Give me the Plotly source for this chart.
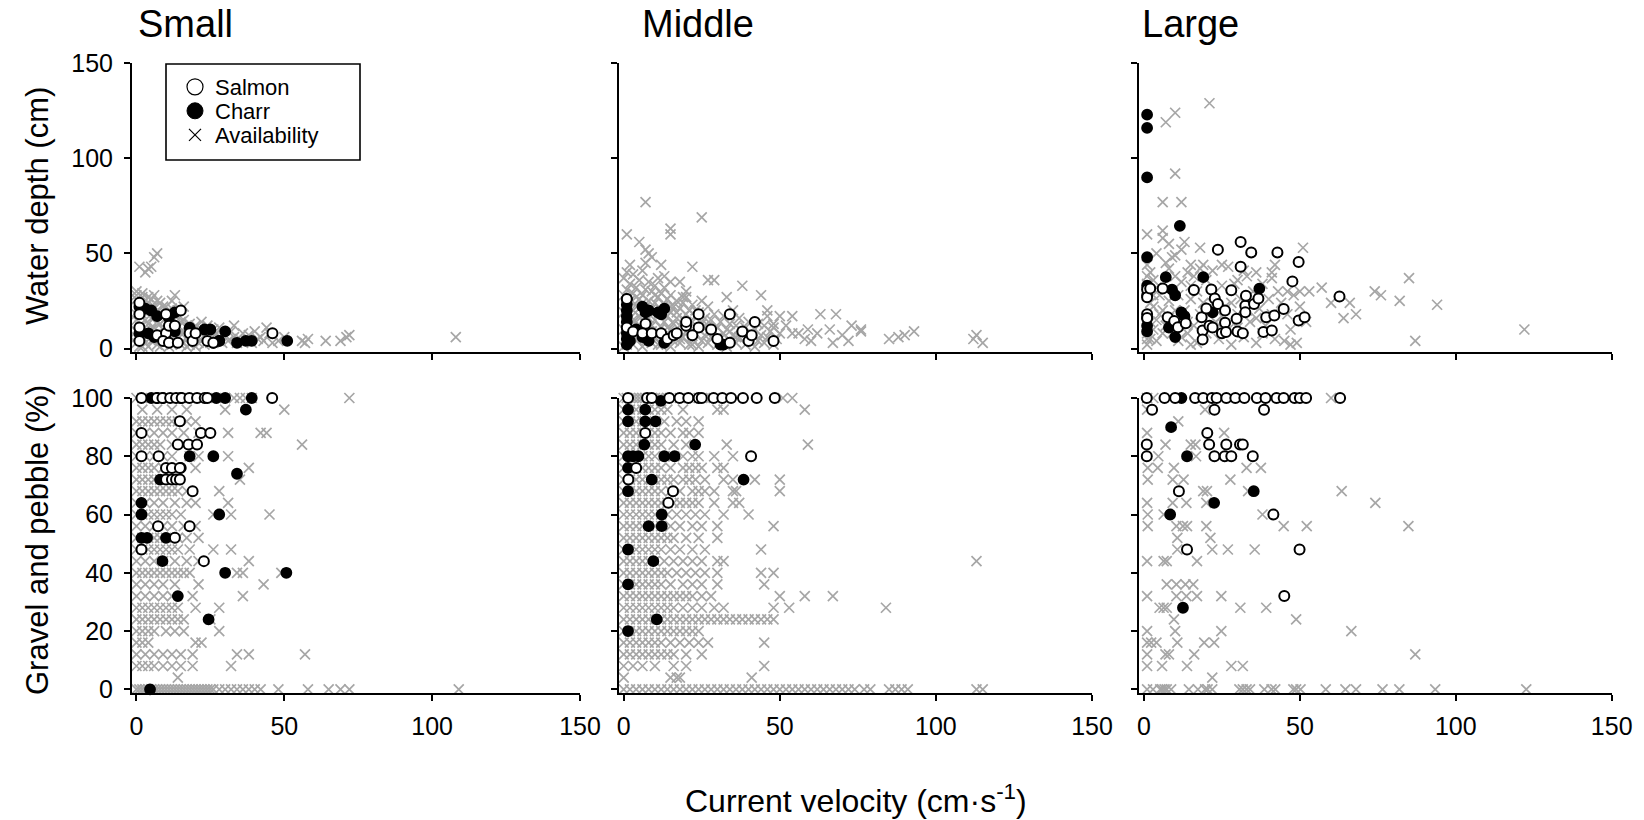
import plotly.graph_objects as go

FONT = "Liberation Sans, Arial, sans-serif"
GRAY = "#a6a6a6"

panel_titles = ["Small", "Middle", "Large"]
x_ticks = [0, 50, 100, 150]
depth_ticks = [0, 50, 100, 150]
gravel_ticks = [0, 20, 40, 60, 80, 100]

# ---------------- Water depth (cm) vs current velocity (cm/s) ----------------
small_depth_avail = [
    (1,43),(3,40),(4,42),(5,43),(7,50),(6,48),(13,28),(12,25),(16,22),(14,20),(22,14),(24,12),(26,10),
    (28,11),(33,12),(36,8),(40,9),(42,6),(44,11),(45,8),(48,4),(50,6),(56,4),(57,3),(58,5),(64,4),
    (69,4),(71,6),(72,7),(108,6),
    (0,30),(0,28),(0,26),(1,24),(1,22),(1,20),(0,18),(0,15),(1,12),(0,9),(0,6),(0,3),(1,1),
    (2,29),(2,27),(3,25),(2,23),(3,21),(2,18),(3,15),(2,12),(3,9),(2,6),(3,3),(2,1),
    (4,27),(5,26),(4,24),(5,22),(4,19),(5,16),(4,13),(5,10),(4,7),(5,4),(4,1),
    (6,28),(7,25),(6,22),(7,20),(6,17),(7,14),(6,11),(7,8),(6,5),(7,2),
    (8,24),(9,22),(8,19),(9,17),(8,13),(9,10),(8,7),(9,4),(8,1),
    (10,22),(11,20),(10,16),(11,13),(10,10),(11,7),(10,4),(11,1),
    (12,21),(13,18),(12,15),(13,11),(12,8),(13,5),(12,2),
    (14,17),(15,14),(14,11),(15,8),(14,5),(15,2),
    (16,15),(17,12),(16,9),(17,6),(16,3),(17,1),
    (18,13),(19,10),(18,7),(19,4),(18,2),
    (20,12),(21,9),(20,6),(21,3),(20,1),
    (22,10),(23,7),(22,4),(23,2),
    (25,9),(26,6),(25,3),(27,8),(28,5),(29,3),(30,7),(31,4),(32,9),(33,6),(34,3),(35,5),(37,4),
    (38,7),(39,3),(41,5),(43,4),(46,3),
]
small_depth_charr = [
    (1,22),(3,21),(5,20),(7,17),(11,16),(13,19),(13,9),(18,11),(23,10),(25,10),(28,4),(30,9),
    (34,3),(37,4),(39,4),(51,4),(1,8),(4,8),(26,3),(28,4),(6,6),
]
small_depth_salmon = [
    (1,24),(1,18),(1,11),(1,4),(7,7),(10,8),(10,18),(11,12),(13,12),(15,20),(18,8),(19,4),
    (24,4),(26,3),(20,8),(9,4),(11,3),(14,3),(46,8),
]

middle_depth_avail = [
    (7,77),(25,69),(15,63),(15,60),(1,60),(5,56),(7,52),(9,48),(8,50),(2,44),(12,44),(22,43),
    (27,36),(29,36),(38,33),(18,35),(15,35),(13,38),(20,30),(33,27),(44,28),(46,20),(50,17),
    (54,17),(63,18),(68,18),(73,12),(76,10),(76,9),(85,5),(88,6),(90,7),(93,9),(113,7),(115,3),
    (112,5),(59,10),(62,8),(66,10),(70,7),(72,4),(67,3),(58,5),(56,8),(60,4),(52,12),(54,8),(48,13),
    (0,1),(1,4),(2,7),(0,10),(1,13),(2,16),(0,19),(1,22),(2,25),(0,28),(1,31),(2,34),(0,37),(1,40),
    (3,2),(4,5),(5,8),(3,11),(4,14),(5,17),(3,20),(4,23),(5,26),(3,29),(4,32),(5,36),(3,39),
    (6,1),(7,4),(8,7),(6,10),(7,13),(8,16),(6,19),(7,22),(8,25),(6,28),(7,31),(8,35),(6,41),(7,45),
    (9,3),(10,6),(11,9),(9,12),(10,15),(11,18),(9,21),(10,24),(11,27),(9,30),(10,33),(11,37),
    (12,2),(13,5),(14,8),(12,11),(13,14),(14,17),(12,20),(13,23),(14,26),(12,29),(13,32),
    (15,1),(16,4),(17,7),(15,10),(16,13),(17,16),(15,19),(16,22),(17,25),(15,28),
    (18,3),(19,6),(20,9),(18,12),(19,15),(20,18),(18,21),(19,24),(20,27),
    (21,2),(22,5),(23,8),(21,11),(22,14),(23,17),(21,20),(22,23),
    (24,1),(25,4),(26,7),(24,10),(25,13),(26,16),(24,19),(25,25),
    (27,3),(28,6),(29,9),(27,12),(28,15),(29,18),(27,22),
    (30,2),(31,5),(32,8),(30,11),(31,14),(32,17),
    (33,1),(34,4),(35,7),(33,10),(34,13),(35,20),
    (36,3),(37,6),(38,9),(36,12),(37,16),
    (39,2),(40,5),(41,8),(39,11),(40,14),
    (42,1),(43,4),(44,7),(42,10),(43,13),
    (45,3),(46,6),(47,9),(45,12),(46,17),
    (48,2),(49,5),(50,8),(48,11),
    (1,2),(2,12),(3,15),(5,21),(4,27),(6,24),(8,20),(9,9),(10,28),(11,2),(13,18),(14,11),(15,22),
    (16,8),(17,19),(18,5),(19,27),(20,14),(22,2),(23,20),(26,12),(28,9),(30,6),(32,3),(34,9),(36,6),
]
middle_depth_charr = [
    (1,2),(1,5),(1,8),(1,11),(1,14),(1,17),(1,20),(1,23),(1,26),(6,22),(7,19),(8,20),(11,19),
    (12,18),(13,21),(2,4),(8,4),(13,3),(31,2),(32,2),(4,10),(6,6),
]
middle_depth_salmon = [
    (1,26),(1,11),(3,9),(7,13),(6,8),(9,8),(12,8),(14,5),(16,7),(17,8),(20,12),(20,14),(24,18),
    (24,11),(22,7),(28,10),(30,5),(34,3),(34,18),(38,9),(42,14),(40,4),(41,7),(48,4),
]

large_depth_avail = [
    (21,129),(10,124),(7,119),(10,92),(6,77),(12,77),(1,60),(6,62),(6,58),(13,56),(18,53),(51,53),
    (10,49),(1,44),(15,44),(22,41),(41,40),(36,40),(41,37),(46,30),(57,32),(85,37),(76,28),(74,30),
    (82,25),(94,23),(60,24),(66,24),(68,18),(64,16),(87,4),(122,10),
    (1,38),(1,34),(2,40),(3,36),(4,32),(5,28),(7,45),(8,42),(9,48),(10,38),(12,35),(14,40),(15,33),
    (16,38),(17,30),(18,42),(20,36),(8,25),(6,20),(4,15),(3,10),(2,5),(1,2),(1,8),(2,14),(3,22),
    (5,18),(7,12),(9,8),(11,4),(13,20),(14,8),(15,26),(16,12),(17,3),(19,24),(20,8),(22,28),(23,14),
    (24,5),(25,33),(26,22),(27,10),(28,2),(29,34),(30,18),(31,26),(32,6),(33,38),(34,14),(35,30),
    (36,3),(37,21),(38,34),(39,12),(40,26),(42,5),(44,24),(46,18),(47,10),(48,28),(49,3),(50,22),
    (52,14),(53,30),(1,5),(1,12),(1,17),(2,24),(3,28),(4,4),(6,8),(7,31),(8,16),(10,20),(11,28),
    (12,6),(14,14),(15,2),(18,18),(21,22),(25,17),(28,24),(30,11),(33,20),(36,16),(38,8),(41,18),
    (43,30),(45,4),(47,2),(50,30),(19,44),(25,44),(27,43),(30,36),(32,41),(42,44),(8,55),(12,52),(4,50),
]
large_depth_charr = [
    (1,123),(1,116),(1,90),(1,48),(11.5,64.5),(7,37.5),(19,37.5),(1,33),(1,28),(9,31),(10,28),
    (12,19),(13,17),(8,11),(10,6),(1,16),(1,12),(1,9),(37,31.5),(22,19),
]
large_depth_salmon = [
    (1,31),(1,27),(2,31.5),(6,31.5),(1,18),(1,16),(7.6,16.4),(9.7,14.4),(10.9,11.2),(13.4,13.3),
    (16,30.8),(18.5,16.4),(18.8,9.5),(18.8,4.7),(20,21),(21,12),(21.6,31),(22,11),(22.7,26.3),
    (23.7,23.4),(23.7,52),(25,8),(26,20),(26,13.5),(26.3,8.7),(28,30.6),(29.7,15.6),(30,9),
    (31,43),(31,56),(31.7,8),(32.5,22.5),(32.5,19),(32.7,27.7),(34.4,50.5),(35.3,23.4),(36.7,26.3),
    (38.3,8.7),(39.2,16.4),(41,9.5),(41.8,17.3),(42.8,50.5),(44.8,20.8),(47.6,35.3),(49.6,45.5),
    (49.6,14.7),(51.5,16.4),(62.7,27.3),
]

# ---------------- Gravel and pebble (%) vs current velocity (cm/s) ----------------
small_gravel_avail = [
    (0,100),(2,100),(4,100),(6,100),(8,100),(10,100),(12,100),(14,100),(16,100),(18,100),(20,100),
    (22,100),(24,100),(26,100),(28,100),(30,100),(33,100),(35,100),(37,100),(39,100),(72,100),
    (2,96),(7,96),(12,96),(17,96),(30,96),(50,96),
    (0,92),(2,92),(4,92),(6,92),(8,92),(10,92),(12,92),(14,92),(17,92),(20,92),
    (0,88),(3,88),(6,88),(9,88),(12,88),(16,88),(21,88),(31,88),(42,88),(44,88),
    (0,84),(2,84),(4,84),(6,84),(8,84),(12,84),(56,84),
    (0,80),(3,80),(6,80),(9,80),(12,80),(18,80),(21,80),(31,80),
    (0,76),(2,76),(4,76),(6,76),(9,76),(14,76),(20,76),(38,76),
    (0,72),(2,72),(4,72),(6,72),(8,72),(10,72),(12,72),(35,72),
    (0,68),(2,68),(4,68),(6,68),(8,68),(10,68),(12,68),(14,68),(17,68),(28,68),
    (0,64),(3,64),(6,64),(9,64),(13,64),(17,64),(20,64),(31,64),
    (0,60),(2,60),(4,60),(6,60),(8,60),(10,60),(12,60),(15,60),(26,60),(32,60),(45,60),
    (0,56),(3,56),(6,56),(9,56),(12,56),(16,56),(20,56),
    (0,52),(2,52),(4,52),(6,52),(8,52),(10,52),(12,52),(14,52),(17,52),(21,52),
    (0,48),(2,48),(4,48),(6,48),(8,48),(10,48),(12,48),(14,48),(18,48),(26,48),(32,48),
    (0,44),(3,44),(6,44),(9,44),(13,44),(17,44),(21,44),(38,44),
    (0,40),(2,40),(4,40),(6,40),(8,40),(10,40),(12,40),(14,40),(16,40),(18,40),(34,40),(36,40),(49,40),
    (0,36),(3,36),(6,36),(9,36),(13,36),(21,36),(43,36),
    (0,32),(3,32),(6,32),(9,32),(12,32),(19,32),(36,32),
    (0,28),(2,28),(4,28),(6,28),(8,28),(10,28),(12,28),(14,28),(20,28),(28,28),
    (0,24),(2,24),(4,24),(6,24),(8,24),(10,24),(12,24),(14,24),(16,24),(25,24),
    (0,20),(2,20),(4,20),(6,20),(10,20),(13,20),(16,20),(28,20),
    (0,16),(2,16),(4,16),(20,16),(22,16),
    (0,12),(3,12),(6,12),(9,12),(12,12),(15,12),(19,12),(34,12),(38,12),(57,12),
    (0,8),(2,8),(4,8),(6,8),(9,8),(12,8),(15,8),(19,8),(32,8),
    (14,4),
    (0,0),(1,0),(2,0),(3,0),(4,0),(5,0),(6,0),(7,0),(8,0),(9,0),(10,0),(11,0),(12,0),(13,0),(14,0),
    (15,0),(16,0),(17,0),(18,0),(19,0),(20,0),(21,0),(22,0),(23,0),(24,0),(25,0),(26,0),(28,0),(30,0),
    (32,0),(34,0),(36,0),(38,0),(40,0),(42,0),(48,0),(58,0),(65,0),(69,0),(72,0),(109,0),
]
small_gravel_charr = [
    (5,100),(7,100),(9,100),(15,100),(27,100),(30,100),(39,100),(37,96),(18,80),(26,80),(15,76),
    (8,72),(34,74),(1.7,64),(1.7,60),(28,60),(1.7,52),(3.6,52),(10,52),(8.8,44),(30,40),(50.7,40),
    (14,32),(24.4,24),(4.6,0),
]
small_gravel_salmon = [
    (1.7,100),(6.9,100),(8.8,100),(11.4,100),(13.4,100),(15.3,100),(17.9,100),(20.5,100),(23.1,100),
    (24,100),(45.9,100),(14.7,92),(1.7,88),(21.8,88),(25,88),(14,84),(17.6,84),(20.5,84),(1.7,80),
    (7.5,80),(10,76),(12,76),(14.7,76),(10,72),(12,72),(13.4,72),(14.7,72),(19,68),(7.3,56),(18,56),
    (13,52),(1.7,48),(22.8,44),
]

middle_gravel_avail = [
    (0,100),(1,100),(2,100),(3,100),(4,100),(5,100),(6,100),(7,100),(8,100),(9,100),(10,100),(11,100),
    (12,100),(14,100),(16,100),(18,100),(20,100),(22,100),(24,100),(26,100),(28,100),(30,100),(32,100),
    (51,100),(54,100),
    (0,96),(2,96),(4,96),(6,96),(8,96),(10,96),(12,96),(14,96),(19,96),(30,96),(32,96),(58,96),
    (0,92),(2,92),(4,92),(6,92),(8,92),(10,92),(13,92),(17,92),(20,92),(24,92),
    (0,88),(2,88),(4,88),(6,88),(8,88),(10,88),(12,88),(15,88),(19,88),(21,88),(24,88),
    (0,84),(2,84),(4,84),(6,84),(8,84),(10,84),(12,84),(16,84),(20,84),(33,84),(59,84),
    (0,80),(2,80),(4,80),(6,80),(8,80),(10,80),(13,80),(16,80),(19,80),(22,80),(24,80),(29,80),(35,80),
    (0,76),(2,76),(4,76),(6,76),(8,76),(10,76),(12,76),(15,76),(19,76),(21,76),(23,76),(25,76),(30,76),
    (32,76),
    (0,72),(2,72),(4,72),(6,72),(8,72),(10,72),(12,72),(14,72),(16,72),(19,72),(21,72),(23,72),(26,72),
    (32,72),(35,72),(42,72),(50,72),
    (0,68),(2,68),(4,68),(6,68),(8,68),(10,68),(12,68),(15,68),(18,68),(22,68),(24,68),(26,68),(29,68),
    (35,68),(36,68),(50,68),
    (0,64),(2,64),(4,64),(6,64),(8,64),(10,64),(12,64),(14,64),(16,64),(18,64),(20,64),(22,64),(24,64),
    (29,64),(35,64),(37,64),
    (0,60),(2,60),(4,60),(6,60),(8,60),(10,60),(12,60),(14,60),(17,60),(20,60),(23,60),(26,60),(32,60),
    (40,60),
    (0,56),(2,56),(4,56),(6,56),(8,56),(10,56),(12,56),(15,56),(18,56),(22,56),(25,56),(30,56),(48,56),
    (0,52),(2,52),(4,52),(6,52),(8,52),(10,52),(12,52),(14,52),(16,52),(20,52),(24,52),(30,52),
    (0,48),(2,48),(4,48),(6,48),(8,48),(10,48),(12,48),(15,48),(18,48),(22,48),(26,48),(44,48),
    (0,44),(2,44),(4,44),(6,44),(8,44),(10,44),(13,44),(16,44),(19,44),(22,44),(25,44),(30,44),(32,44),
    (113,44),
    (0,40),(2,40),(4,40),(6,40),(8,40),(10,40),(12,40),(14,40),(17,40),(20,40),(23,40),(26,40),(30,40),
    (44,40),(48,40),
    (0,36),(2,36),(4,36),(6,36),(8,36),(10,36),(12,36),(15,36),(19,36),(22,36),(25,36),(30,36),(45,36),
    (0,32),(2,32),(4,32),(6,32),(8,32),(10,32),(12,32),(14,32),(16,32),(18,32),(20,32),(22,32),(25,32),
    (28,32),(50,32),(58,32),(67,32),
    (0,28),(2,28),(4,28),(6,28),(8,28),(10,28),(12,28),(14,28),(16,28),(19,28),(22,28),(25,28),(29,28),
    (32,28),(48,28),(53,28),(84,28),
    (0,24),(2,24),(4,24),(6,24),(8,24),(10,24),(12,24),(14,24),(16,24),(18,24),(20,24),(22,24),(24,24),
    (26,24),(28,24),(30,24),(32,24),(34,24),(36,24),(38,24),(40,24),(42,24),(44,24),(46,24),(48,24),
    (0,20),(2,20),(4,20),(6,20),(8,20),(10,20),(12,20),(14,20),(16,20),(18,20),(20,20),(22,20),(24,20),
    (0,16),(2,16),(4,16),(6,16),(8,16),(10,16),(12,16),(15,16),(18,16),(21,16),(24,16),(27,16),(45,16),
    (0,12),(2,12),(4,12),(6,12),(8,12),(10,12),(12,12),(14,12),(16,12),(20,12),(25,12),
    (0,8),(3,8),(6,8),(10,8),(16,8),(20,8),(45,8),
    (0,4),(15,4),(17,4),(18,4),(41,4),
    (0,0),(2,0),(4,0),(6,0),(8,0),(10,0),(12,0),(14,0),(16,0),(18,0),(20,0),(22,0),(24,0),(26,0),(28,0),
    (30,0),(32,0),(34,0),(36,0),(38,0),(40,0),(42,0),(44,0),(46,0),(48,0),(50,0),(52,0),(54,0),(56,0),
    (58,0),(60,0),(62,0),(64,0),(66,0),(68,0),(70,0),(72,0),(74,0),(77,0),(79,0),(85,0),(87,0),(89,0),
    (91,0),(113,0),(115,0),
]
middle_gravel_charr = [
    (1.4,96),(6.9,96),(11.9,99),(1.4,92),(6.9,92),(10.2,92),(6.6,84),(22.9,84),(1.4,80),(3,80),
    (4.7,80),(13,80),(16.3,80),(1.4,76),(9,72),(38.4,72),(1.4,68),(12.2,60),(8,56),(12.2,56),
    (1.4,48),(9.5,44),(1.4,36),(10.6,24),(1.4,20),
]
middle_gravel_salmon = [
    (1.4,100),(7.5,100),(9,100),(14.6,100),(17.9,100),(20.7,100),(24,100),(25,100),(28.8,100),
    (31.6,100),(34.4,100),(38.2,100),(42.6,100),(48.4,100),(6.9,88),(40.8,80),(4,76),(1.5,72),
    (15.8,68),(14.3,64),
]

large_gravel_avail = [
    (1,100),(3,100),(60,100),(1,96),(19.6,96),(11,92),(1,88),(25.7,88),(6.9,84),(15,84),(16.5,84),
    (4.6,80),(16.7,80),(1.2,76),(4.4,76),(9.6,76),(32.9,76),(37.5,76),(1.2,72),(9.2,72),(12.7,72),
    (27.7,72),(19,68),(20.2,68),(33.4,68),(63.4,68),(1,64),(9.2,64),(13.6,64),(20,64),(74.2,64),
    (1.2,60),(6.3,60),(38,60),(1.2,56),(10.4,56),(12.5,56),(13.8,56),(20,56),(44.8,56),(52.2,56),
    (84.8,56),(10.7,52),(21.3,52),(10.7,48),(21.9,48),(26.9,48),(35.5,48),(1,44),(6.3,44),(7.3,44),
    (17,44),(7.3,36),(10.4,36),(13.3,36),(15.8,36),(1,32),(10.4,32),(13.6,32),(17,32),(24.8,32),
    (5,28),(6.3,28),(7.3,28),(30.9,28),(39.2,28),(9.6,24),(48.8,24),(1,20),(10,20),(24.8,20),
    (66.5,20),(1,16),(2.3,16),(4,16),(10.7,16),(19.3,16),(22.5,16),(1,12),(6.9,12),(8,12),(16.1,12),
    (87,12),(1,8),(5.8,8),(13.8,8),(28,8),(31.7,8),(21.9,4),
    (1,0),(2.9,0),(5.2,0),(5.8,0),(6.6,0),(7.3,0),(8.7,0),(14.4,0),(17.3,0),(19.6,0),(20.4,0),
    (21.9,0),(30.6,0),(31.7,0),(32.9,0),(34,0),(38.6,0),(40.9,0),(42.1,0),(47.9,0),(48.8,0),(50.2,0),
    (58.3,0),(64.6,0),(68,0),(76.5,0),(81.9,0),(93.4,0),(122.6,0),
]
large_gravel_charr = [
    (12,100),(8.7,90),(13.8,80),(35.2,68),(22.5,64),(8.4,60),(12.5,28),
]
large_gravel_salmon = [
    (0.9,100),(6.6,100),(10,100),(16.4,100),(19,100),(21.8,100),(23.3,100),(26.4,100),(29.3,100),
    (32.2,100),(36.2,100),(39,100),(42.5,100),(44.8,100),(48.3,100),(50,100),(52,100),(62.9,100),
    (2.6,96),(22.6,96),(38.5,96),(20.3,88),(0.9,84),(20.9,84),(26.4,84),(30.8,84),(31.7,84),
    (0.9,80),(22.6,80),(25.9,80),(28,80),(34.9,80),(11.2,68),(41.5,60),(13.8,48),(49.9,48),(45,32),
]

panels = [
    (small_depth_avail, small_depth_charr, small_depth_salmon),
    (middle_depth_avail, middle_depth_charr, middle_depth_salmon),
    (large_depth_avail, large_depth_charr, large_depth_salmon),
    (small_gravel_avail, small_gravel_charr, small_gravel_salmon),
    (middle_gravel_avail, middle_gravel_charr, middle_gravel_salmon),
    (large_gravel_avail, large_gravel_charr, large_gravel_salmon),
]

W, H = 1644, 820
# pixel layout of the plot areas (axis line -> end tick)
col_px = [(132.0, 580.0), (619.0, 1092.0), (1139.3, 1611.7)]
row_px = [(63.3, 352.3), (398.0, 692.8)]

fig = go.Figure()

for i, (avail, charr, salmon) in enumerate(panels):
    xa = "x" if i == 0 else f"x{i+1}"
    ya = "y" if i == 0 else f"y{i+1}"
    ax, ay = zip(*avail)
    fig.add_trace(go.Scatter(
        x=ax, y=ay, mode="markers", xaxis=xa, yaxis=ya, showlegend=False, cliponaxis=False,
        marker=dict(symbol="x-thin-open", size=10, color=GRAY, line=dict(color=GRAY, width=1.7)),
        hoverinfo="skip"))
    cx, cy = zip(*charr)
    fig.add_trace(go.Scatter(
        x=cx, y=cy, mode="markers", xaxis=xa, yaxis=ya, showlegend=False, cliponaxis=False,
        marker=dict(symbol="circle", size=10, color="black", line=dict(color="black", width=1.8))))
    sx, sy = zip(*salmon)
    fig.add_trace(go.Scatter(
        x=sx, y=sy, mode="markers", xaxis=xa, yaxis=ya, showlegend=False, cliponaxis=False,
        marker=dict(symbol="circle", size=10, color="white", line=dict(color="black", width=2))))

# legend entries (one legend per row so that the row spacing can follow the reference)
fig.add_trace(go.Scatter(x=[None], y=[None], mode="markers", name="Salmon", legend="legend",
                         marker=dict(symbol="circle", size=16, color="white", line=dict(color="black", width=1.2))))
fig.add_trace(go.Scatter(x=[None], y=[None], mode="markers", name="Charr", legend="legend2",
                         marker=dict(symbol="circle", size=16, color="black", line=dict(color="black", width=1))))
fig.add_trace(go.Scatter(x=[None], y=[None], mode="markers", name="Availability", legend="legend3",
                         marker=dict(symbol="x-thin-open", size=12, color="black", line=dict(color="black", width=1.2))))

axis_common = dict(showline=True, linecolor="black", linewidth=2, ticks="outside", ticklen=6,
                   tickwidth=2, tickcolor="black", showgrid=False, zeroline=False, automargin=False,
                   tickfont=dict(family=FONT, size=25, color="black"))

layout = {}
for i in range(6):
    r, c = divmod(i, 3)
    x0, x1 = col_px[c]
    ytop, ybot = row_px[r]
    xk = "xaxis" if i == 0 else f"xaxis{i+1}"
    yk = "yaxis" if i == 0 else f"yaxis{i+1}"
    ya_name = "y" if i == 0 else f"y{i+1}"
    xa_name = "x" if i == 0 else f"x{i+1}"
    layout[xk] = dict(axis_common, domain=[x0 / W, x1 / W], range=[-1.5, 150], anchor=ya_name,
                      tickvals=x_ticks, ticktext=[str(t) for t in x_ticks],
                      showticklabels=(r == 1), ticklabelstandoff=4)
    if r == 0:
        yr, yt = [-2, 150], depth_ticks
    else:
        yr, yt = [-1.2, 100], gravel_ticks
    layout[yk] = dict(axis_common, domain=[1 - ybot / H, 1 - ytop / H], range=yr, anchor=xa_name,
                      tickvals=yt, ticktext=[str(t) for t in yt], showticklabels=(c == 0),
                      ticklabelstandoff=6)

fig.update_layout(**layout)

annotations = []
title_left_px = [136, 640, 1140]
for name, lx in zip(panel_titles, title_left_px):
    annotations.append(dict(text=name, x=lx / W, y=1 - 24 / H, xref="paper", yref="paper",
                            xanchor="left", yanchor="middle", showarrow=False,
                            font=dict(family=FONT, size=38, color="black")))
annotations.append(dict(text="Water depth (cm)", x=37 / W, y=1 - 206 / H, xref="paper", yref="paper",
                        textangle=-90, xanchor="center", yanchor="middle", showarrow=False,
                        font=dict(family=FONT, size=31, color="black")))
annotations.append(dict(text="Gravel and pebble (%)", x=37 / W, y=1 - 540 / H, xref="paper", yref="paper",
                        textangle=-90, xanchor="center", yanchor="middle", showarrow=False,
                        font=dict(family=FONT, size=31, color="black")))
annotations.append(dict(text="Current velocity (cm·s<sup>-1</sup>)", x=856 / W, y=1 - 799 / H,
                        xref="paper", yref="paper", xanchor="center", yanchor="middle", showarrow=False,
                        font=dict(family=FONT, size=32, color="black")))

legend_rows_px = [87, 111, 135]
legend_common = dict(x=175 / W, xanchor="left", yanchor="middle", bgcolor="rgba(0,0,0,0)",
                     borderwidth=0, font=dict(family=FONT, size=22, color="black"),
                     itemsizing="trace", tracegroupgap=0)

fig.update_layout(
    width=W, height=H, margin=dict(l=0, r=0, t=0, b=0, pad=0, autoexpand=False),
    paper_bgcolor="white", plot_bgcolor="white",
    font=dict(family=FONT, color="black"),
    annotations=annotations,
    shapes=[dict(type="rect", xref="paper", yref="paper", x0=166 / W, x1=360 / W,
                 y0=1 - 160 / H, y1=1 - 64 / H, line=dict(color="black", width=1.6),
                 fillcolor="rgba(0,0,0,0)")],
    legend=dict(legend_common, y=1 - legend_rows_px[0] / H),
    legend2=dict(legend_common, y=1 - legend_rows_px[1] / H),
    legend3=dict(legend_common, y=1 - legend_rows_px[2] / H),
    showlegend=True,
)

fig.write_html(
    "out.html",
    post_script="document.body.style.margin='0';document.body.style.padding='0';"
                "document.documentElement.style.overflow='hidden';",
)
